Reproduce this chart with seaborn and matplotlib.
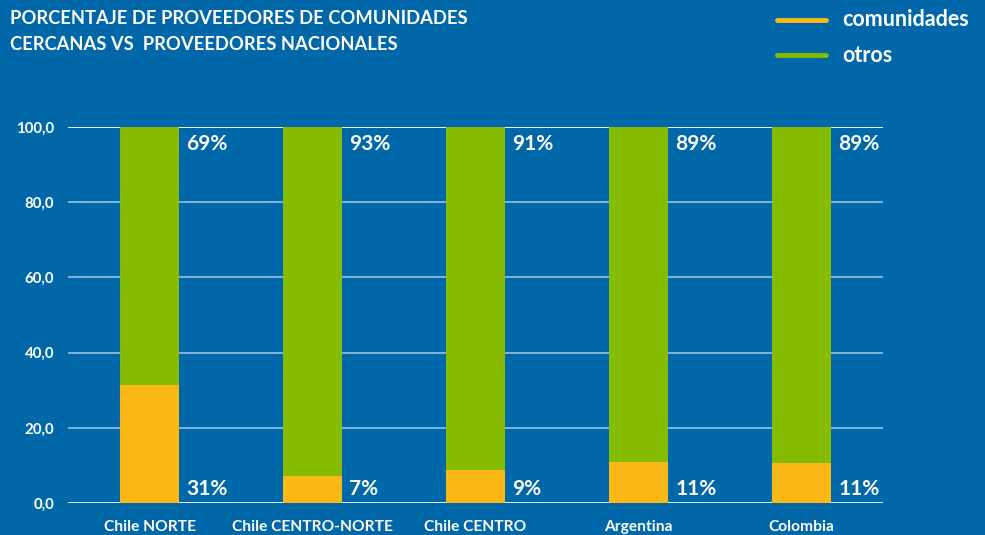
import matplotlib
matplotlib.use("Agg")
import matplotlib.pyplot as plt
from matplotlib.lines import Line2D
import seaborn as sns
import pandas as pd

regiones = ["Chile NORTE", "Chile CENTRO-NORTE", "Chile CENTRO", "Argentina", "Colombia"]
comunidades = [31.3, 7.2, 8.8, 10.9, 10.6]
otros = [68.7, 92.8, 91.2, 89.1, 89.4]
etiquetas_com = ["31%", "7%", "9%", "11%", "11%"]
etiquetas_otros = ["69%", "93%", "91%", "89%", "89%"]
yticks = [0, 20, 40, 60, 80, 100]
series = ["comunidades", "otros"]

BG = "#0068a8"
AMARILLO = "#fcb814"
VERDE = "#86bc00"

sns.set_theme(style="white")
plt.rcParams["font.family"] = ["Lato", "DejaVu Sans"]

df = pd.DataFrame({"region": regiones, "comunidades": comunidades, "otros": otros})
df["total"] = df["comunidades"] + df["otros"]

fig = plt.figure(figsize=(9.85, 5.35), dpi=100, facecolor=BG)
ax = fig.add_axes([68 / 985, 1 - 503 / 535, (883 - 68) / 985, (503 - 127) / 535])
ax.set_facecolor(BG)

# grid lines
for v in yticks:
    if v in (0, 100):
        ax.axhline(v, color="white", lw=1.3, zorder=1)
    else:
        ax.axhline(v, color="#8cbbd9", lw=1.3, zorder=1)

sns.barplot(data=df, x="region", y="total", color=VERDE, width=0.362,
            saturation=1, linewidth=0, ax=ax, zorder=2)
sns.barplot(data=df, x="region", y="comunidades", color=AMARILLO, width=0.362,
            saturation=1, linewidth=0, ax=ax, zorder=3)

ax.set_xlim(-0.5, len(regiones) - 0.5)
ax.set_ylim(0, 100)
ax.set_yticks(yticks)
ax.set_yticklabels([f"{v:.1f}".replace(".", ",") for v in yticks])
ax.set_xlabel("")
ax.set_ylabel("")
for s in ax.spines.values():
    s.set_visible(False)
ax.tick_params(axis="y", length=0, colors="white", labelsize=10.8, pad=10)
ax.tick_params(axis="x", length=0, colors="white", labelsize=11.2, pad=12)
for lab in ax.get_xticklabels() + ax.get_yticklabels():
    lab.set_fontweight("bold")
    lab.set_color("white")

for i in range(len(regiones)):
    x = i + 0.181 + 0.045
    ax.text(x, 95.6, etiquetas_otros[i], color="white", fontsize=15,
            fontweight="bold", ha="left", va="center", zorder=4)
    ax.text(x, 3.6, etiquetas_com[i], color="white", fontsize=15,
            fontweight="bold", ha="left", va="center", zorder=4)

fig.text(10 / 985, 1 - 19 / 535, "PORCENTAJE DE PROVEEDORES DE COMUNIDADES",
         color="white", fontsize=13.2, fontweight="bold", ha="left", va="center")
fig.text(10 / 985, 1 - 45 / 535, "CERCANAS VS  PROVEEDORES NACIONALES",
         color="white", fontsize=13.2, fontweight="bold", ha="left", va="center")

# legend drawn by hand to match spacing
for name, col, ypix in zip(series, [AMARILLO, VERDE], [20, 55]):
    yf = 1 - ypix / 535
    fig.add_artist(Line2D([777 / 985, 826 / 985], [yf, yf], color=col, lw=3.5,
                          transform=fig.transFigure))
    fig.text(842 / 985, yf, name, color="white", fontsize=15.5,
             fontweight="bold", ha="left", va="center")

fig.savefig("out.png", dpi=100, facecolor=BG)
